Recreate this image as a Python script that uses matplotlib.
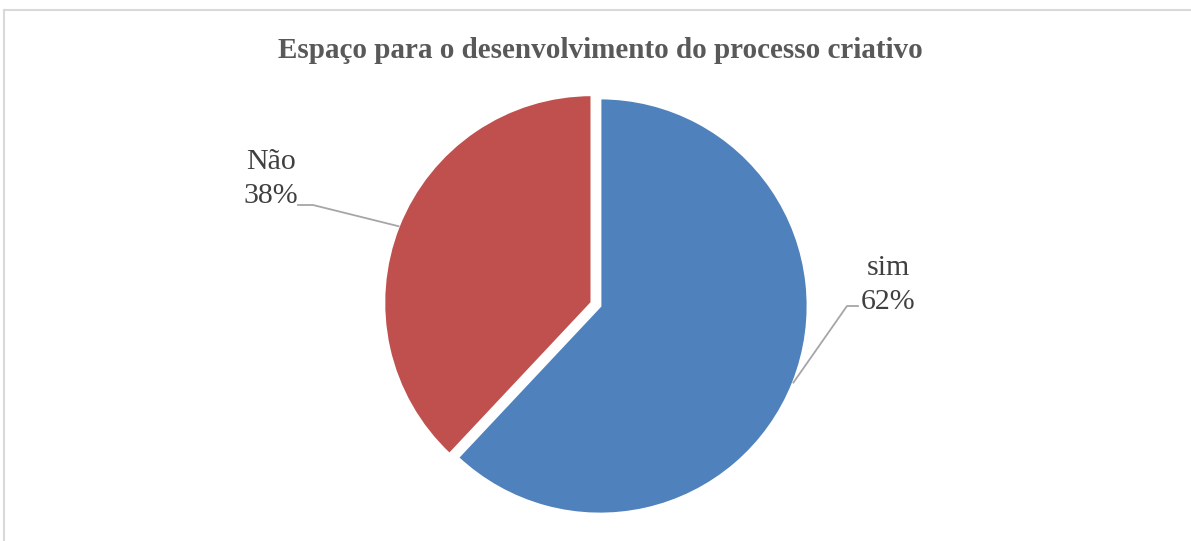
import matplotlib.pyplot as plt
import numpy as np

plt.rcParams['font.family'] = ['Liberation Serif', 'DejaVu Serif']

# Pie data
categories = ['sim', 'Não']
values = [62, 38]
pct_labels = ['62%', '38%']
colors = ['#4F81BD', '#C0504D']
explode = [0.0, 0.042]

W, H = 1191, 541
cx, cy, R = 600, 306, 208  # pie centre / radius in pixels

fig = plt.figure(figsize=(W / 100, H / 100), dpi=100)
ax = fig.add_axes([0, 0, 1, 1])

wedges, _ = ax.pie(values, colors=colors, startangle=90, counterclock=False,
                   explode=explode, radius=1,
                   wedgeprops=dict(edgecolor='white', linewidth=2))

ax.set_xlim(-cx / R, (W - cx) / R)
ax.set_ylim(-(H - cy) / R, cy / R)
ax.set_aspect('equal')
ax.axis('off')

# frame around chart area (light gray, left + top visible)
fig.add_artist(plt.Line2D([3.5 / W, 3.5 / W], [0, 1 - 9.5 / H], color='#D9D9D9', lw=1.5))
fig.add_artist(plt.Line2D([3.5 / W, 1], [1 - 9.5 / H, 1 - 9.5 / H], color='#D9D9D9', lw=1.5))

fig.text(cx / W, 1 - 51 / H, 'Espaço para o desenvolvimento do processo criativo',
         ha='center', va='center', fontsize=21, fontweight='bold', color='#595959')

# labels with leader lines
label_pos = {'sim': ((888 - cx) / R, (cy - 285) / R), 'Não': ((271 - cx) / R, (cy - 179) / R)}
for w, cat, pct in zip(wedges, categories, pct_labels):
    mid = np.deg2rad((w.theta1 + w.theta2) / 2)
    ox, oy = w.center
    px, py = ox + np.cos(mid), oy + np.sin(mid)
    tx, ty = label_pos[cat]
    ax.text(tx, ty, f'{cat}\n{pct}', ha='center', va='center', fontsize=21.5,
            color='#404040', linespacing=1.42)
    if np.cos(mid) < 0:
        ex, ey = (313 - cx) / R, (cy - 205) / R
        sx = (298 - cx) / R
    else:
        ex, ey = (847 - cx) / R, (cy - 306) / R
        sx = (858 - cx) / R
    ax.plot([px, ex, sx], [py, ey, ey], color='#A6A6A6', lw=1.3)

fig.savefig('out.png', dpi=100)
